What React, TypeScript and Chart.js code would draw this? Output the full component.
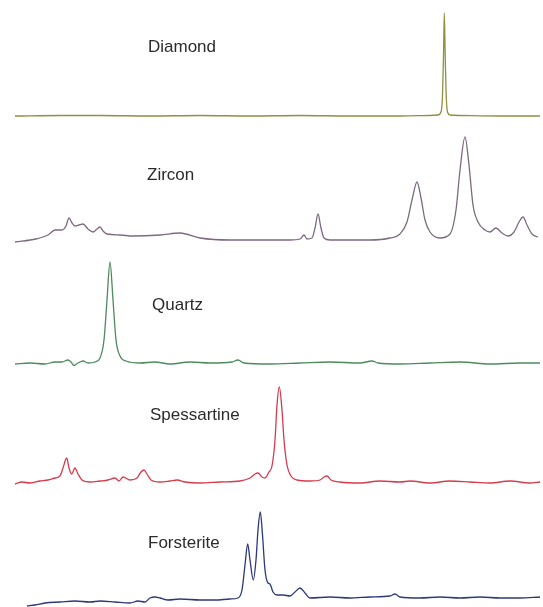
import React, { useEffect, useRef } from "react";
import { Chart, registerables } from "chart.js";

Chart.register(...registerables);

// Names of the spectra, from top to bottom
const mineralNames = ["Diamond", "Zircon", "Quartz", "Spessartine", "Forsterite"];
const lineColors = ["#8f9040", "#7e6a80", "#4d8a5c", "#d43c4e", "#2c3878"];
// Vertical offset of each spectrum's baseline (stacked display units)
const baselineOffsets = [491, 367, 244, 125, 9];
// Label anchor: shift position and height above baseline
const labelShift = [148, 147, 152, 150, 148];
const labelHeight = [69, 65, 58, 67, 55];

// Diamond
const diamondShift = [15, 60, 100, 150, 200, 250, 300, 350, 400, 430, 438, 441, 442.5, 443.5, 444.3, 445.2, 446.2, 447.5, 450, 460, 500, 540];
const diamondIntensity = [0, 0.5, 0.5, 0, 0.5, 0, 0.5, 0, 0, 0.5, 1, 4, 20, 60, 103, 60, 20, 4, 1, 0.5, 0, 0];

// Zircon
const zirconShift = [15, 36, 48, 55, 62, 66, 69, 72, 75, 79, 83, 88, 93, 97, 100, 103, 107, 120, 133, 160, 180, 200, 230, 260, 290, 300, 304, 307, 312, 315, 318, 321, 324, 330, 370, 390, 400, 407, 412, 417, 421, 425, 430, 440, 450, 456, 460, 465, 469, 473, 478, 485, 490, 496, 502, 508, 514, 519, 523, 527, 532, 538];
const zirconIntensity = [-2, 1, 5, 10, 10, 14, 22, 17, 14, 15, 16, 11, 8, 11, 13, 9, 6, 5, 4, 5, 7, 2, 0, 0, 0, 1, 5, 1, 2, 12, 26, 12, 2, 0, 0, 2, 6, 18, 40, 58, 42, 20, 8, 2, 6, 30, 70, 103, 75, 35, 18, 10, 8, 12, 7, 4, 8, 18, 23, 15, 6, 3];

// Quartz
const quartzShift = [15, 30, 45, 55, 62, 68, 71, 74, 78, 83, 88, 95, 100, 104, 107, 110, 113, 116, 120, 126, 140, 155, 170, 190, 210, 232, 238, 244, 270, 300, 330, 360, 372, 378, 400, 430, 460, 490, 520, 540];
const quartzIntensity = [-1, 0, -1, 1, 1, 3, 1, -2.5, 0, 2, 0, 1, 5, 23, 63, 101, 63, 23, 7, 2, 0, 1, -1, 1, 0, 1, 3, 0, -1, 0, 1, 0, 2, 0, -1, 0, 1, -1, 0, 0];

// Spessartine
const spessartineShift = [15, 22, 30, 40, 48, 55, 60, 63, 66.7, 69, 71.7, 75, 78, 82, 90, 100, 108, 115, 119, 123, 130, 137, 141, 144, 147, 151, 160, 170, 177, 185, 200, 220, 240, 250, 255, 258, 262, 265, 269, 272, 275, 277, 279.3, 282, 284, 287, 291, 297, 310, 320, 324, 327, 331, 340, 360, 380, 400, 410, 430, 450, 470, 490, 510, 530, 540];
const spessartineIntensity = [-2, 0, -1, 1, 2, 4, 6, 14, 24, 14, 8, 14, 8, 2, 0, 1, 2, 4, 1, 5, 2, 4, 10, 12, 8, 2, 0, 1, 2, 0, -1, 0, 1, 4, 8, 9, 5, 4, 10, 16, 42, 77, 95, 72, 42, 17, 6, 2, 1, 2, 5, 6, 2, 0, -1, 1, 0, 1, -1, 1, 0, -1, 1, -1, 0];

// Forsterite
const forsteriteShift = [27, 35, 45, 60, 75, 90, 100, 115, 130, 138, 145, 150, 155, 160, 168, 180, 200, 215, 230, 238, 242, 245, 247.7, 250, 253.3, 256, 258, 260.3, 262.5, 265, 268, 270, 273, 277, 283, 290, 295, 300, 305, 310, 330, 350, 370, 390, 395, 400, 420, 440, 460, 480, 500, 520, 540];
const forsteriteIntensity = [-8, -7, -5, -4, -3, -4, -3, -4, -5, -3, -4, 0, 1, 0, -2, -1, -2, -2, -1, 0, 8, 33, 54, 38, 18, 38, 68, 86, 63, 28, 15, 14, 6, 3, 3, 2, 6, 10, 5, 0, 1, 0, 1, 2, 4, 1, 0, 1, 0, 1, 0, 0, 1];

const shifts = [diamondShift, zirconShift, quartzShift, spessartineShift, forsteriteShift];
const intensities = [diamondIntensity, zirconIntensity, quartzIntensity, spessartineIntensity, forsteriteIntensity];

const labelPlugin = {
  id: "spectrumLabels",
  afterDatasetsDraw(chart: any) {
    const { ctx, scales } = chart;
    ctx.save();
    ctx.font = '17px "Liberation Sans", Arial, sans-serif';
    ctx.fillStyle = "#2b2b2b";
    ctx.textAlign = "left";
    ctx.textBaseline = "middle";
    mineralNames.forEach((name, i) => {
      const x = scales.x.getPixelForValue(labelShift[i]);
      const y = scales.y.getPixelForValue(baselineOffsets[i] + labelHeight[i]);
      ctx.fillText(name, x, y);
    });
    ctx.restore();
  },
};

export default function App() {
  const ref = useRef<HTMLCanvasElement | null>(null);
  useEffect(() => {
    if (!ref.current) return;
    const datasets = mineralNames.map((name, i) => ({
      label: name,
      data: shifts[i].map((s, j) => ({ x: s, y: intensities[i][j] + baselineOffsets[i] })),
      borderColor: lineColors[i],
      borderWidth: 1.3,
      pointRadius: 0,
      fill: false,
      cubicInterpolationMode: "monotone" as const,
      clip: false as any,
    }));
    const chart = new Chart(ref.current, {
      type: "line",
      data: { datasets },
      options: {
        animation: false,
        responsive: true,
        maintainAspectRatio: false,
        layout: { padding: { left: 15, right: 3, top: 0, bottom: 0 } },
        plugins: { legend: { display: false }, tooltip: { enabled: false } },
        scales: {
          x: { type: "linear", min: 15, max: 540, display: false },
          y: { type: "linear", min: 0, max: 607, display: false },
        },
      },
      plugins: [labelPlugin],
    });
    return () => chart.destroy();
  }, []);
  return (
    <div style={{ position: "absolute", left: 0, top: 0, width: 543, height: 607, background: "#fff" }}>
      <canvas ref={ref} />
    </div>
  );
}
